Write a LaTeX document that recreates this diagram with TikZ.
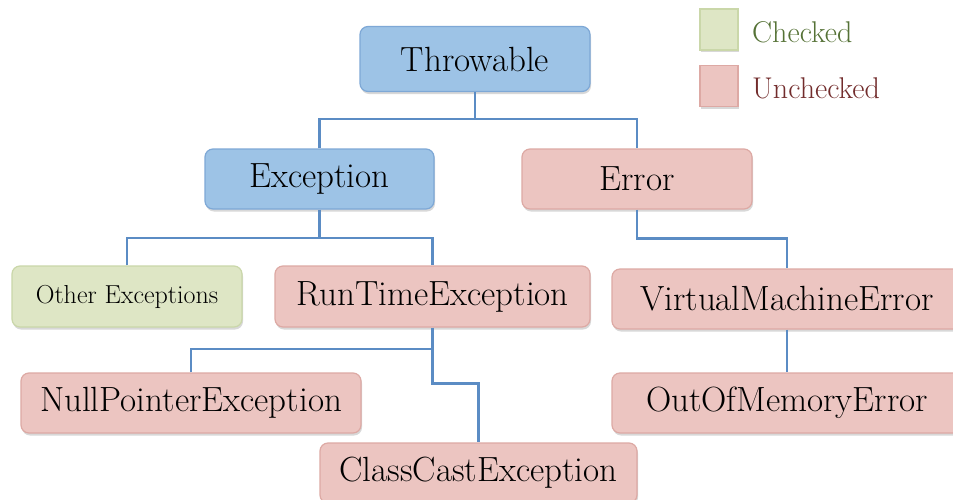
\documentclass[tikz,border=0pt]{standalone}
\usetikzlibrary{shadows}
\definecolor{bluefill}{HTML}{9DC3E6}
\definecolor{blueline}{HTML}{7EA8D6}
\definecolor{pinkfill}{HTML}{ECC5C1}
\definecolor{pinkline}{HTML}{DDA9A4}
\definecolor{greenfill}{HTML}{DEE6C5}
\definecolor{greenline}{HTML}{CAD7A9}
\definecolor{conn}{HTML}{5B8CC4}
\definecolor{chk}{HTML}{557236}
\definecolor{unchk}{HTML}{722C2C}
\tikzset{
  box/.style={rounded corners=8pt, line width=1.2pt, inner sep=0pt, minimum height=60pt,
    font=\fontsize{35}{38}\selectfont,
    drop shadow={shadow xshift=1pt, shadow yshift=-2.5pt, opacity=0.25, fill=black!60}},
  bluebox/.style={box, fill=bluefill, draw=blueline},
  pinkbox/.style={box, fill=pinkfill, draw=pinkline},
  greenbox/.style={box, fill=greenfill, draw=greenline},
  legsq/.style={line width=1.2pt, inner sep=0pt, minimum width=38pt, minimum height=41pt,
    drop shadow={shadow xshift=1pt, shadow yshift=-2pt, opacity=0.25, fill=black!60}},
  legtxt/.style={anchor=west, inner sep=0pt, font=\fontsize{30}{33}\selectfont},
  wire/.style={draw=conn, line width=2.6pt}
}
\begin{document}
\begin{tikzpicture}[x=1pt,y=-1pt]
\path[use as bounding box, clip] (0,0) rectangle (953,499);
\fill[white] (0,0) rectangle (953,499);
% nodes
\node[bluebox, minimum width=230pt, minimum height=65pt] (thr) at (475,59) {Throwable};
\node[bluebox, minimum width=229pt] (exc) at (319.5,179) {Exception};
\node[pinkbox, minimum width=230pt] (err) at (637,179) {Error};
\node[greenbox, minimum width=230pt, minimum height=61pt, font=\fontsize{26}{29}\selectfont] (oth) at (127,296.5) {Other Exceptions};
\node[pinkbox, minimum width=315pt, minimum height=61pt] (rte) at (432.5,296.5) {RunTimeException};
\node[pinkbox, minimum width=350pt] (vme) at (787,299) {VirtualMachineError};
\node[pinkbox, minimum width=340pt] (npe) at (191,403) {NullPointerException};
\node[pinkbox, minimum width=350pt] (oom) at (787,403) {OutOfMemoryError};
\node[pinkbox, minimum width=317pt] (cce) at (478.5,473) {ClassCastException};
% legend
\node[legsq, fill=greenfill, draw=greenline] (lg) at (719,29.5) {};
\node[legsq, fill=pinkfill, draw=pinkline] (lp) at (719,86) {};
\node[legtxt, text=chk] (lgt) at (752,32) {Checked};
\node[legtxt, text=unchk] (lpt) at (752,88) {Unchecked};
% connectors
\coordinate (j1) at (475,119);
\coordinate (j2) at (319.5,238);
\coordinate (j4) at (432.5,349);
\draw[wire] (thr.south) -- (j1);
\draw[wire] (exc.north) |- (j1) -| (err.north);
\draw[wire] (exc.south) -- (j2);
\draw[wire] (oth.north) |- (j2) -| (rte.north);
\draw[wire] (err.south) -- ++(0,29) -| (vme.north);
\draw[wire] (rte.south) -- ++(0,56) -| (cce.north);
\draw[wire] (npe.north) |- (j4);
\draw[wire] (vme.south) -- (oom.north);
\end{tikzpicture}
\end{document}
